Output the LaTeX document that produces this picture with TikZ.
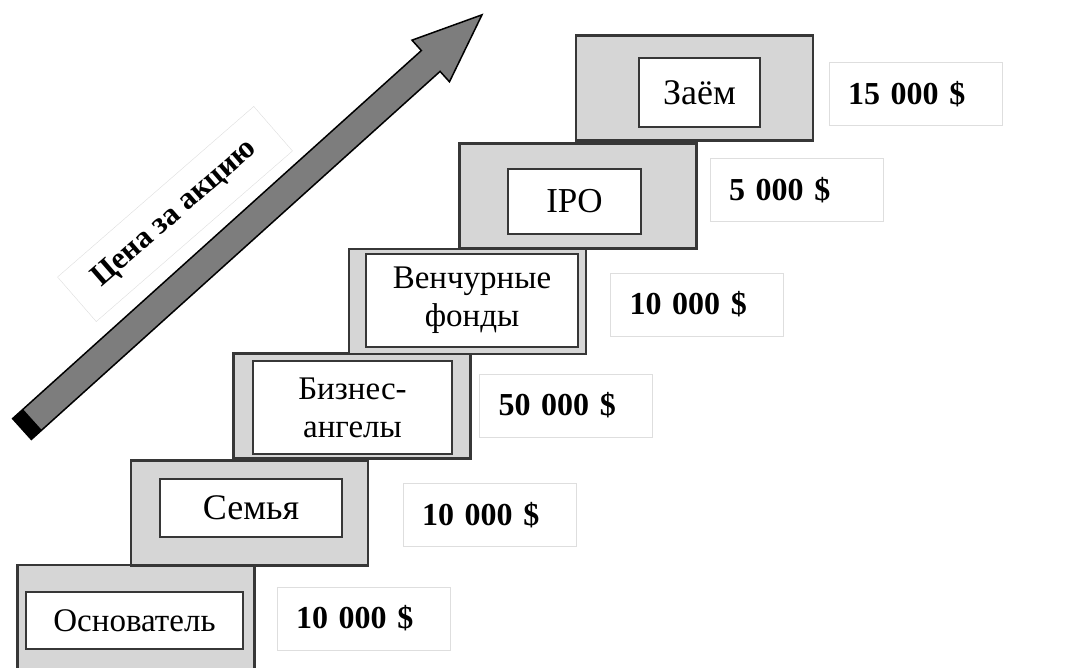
\documentclass[tikz,border=0pt]{standalone}
\usepackage{fontspec}
\setmainfont{Liberation Serif}
\definecolor{stepgray}{RGB}{214,214,214}
\definecolor{edgegray}{RGB}{55,55,55}
\definecolor{arrowgray}{RGB}{125,125,125}
\definecolor{pricegray}{RGB}{222,222,222}

\begin{document}
\begin{tikzpicture}[x=1pt, y=-1pt,
      stepbox/.style={draw=edgegray, fill=stepgray, line width=2.5pt,
                      minimum width=237pt, minimum height=105pt, inner sep=0pt},
      namebox/.style={draw=edgegray, fill=white, line width=2pt, inner sep=0pt,
                      align=center, font=\fontsize{33}{38}\selectfont},
      pricebox/.style={draw=pricegray, fill=white, line width=0.8pt, minimum height=63pt,
                       text width=135pt, inner xsep=19pt, align=left,
                       font=\fontsize{32}{38}\selectfont\bfseries}
    ]
      \useasboundingbox (0,0) rectangle (1084,668);

      % Стрелка
      \coordinate (tail) at (22,429);
      \begin{scope}[shift={(tail)}, rotate=42]
        \filldraw[fill=arrowgray, draw=black, line width=1.5pt]
          (0,-14) -- (550,-14) -- (550,-28) -- (619,0) -- (550,28) -- (550,14) -- (0,14) -- cycle;
        \fill[black] (0,-14) rectangle (14,14);
      \end{scope}
      \node[draw=pricegray, fill=white, rotate=41, minimum width=260pt, minimum height=59pt,
            font=\fontsize{31}{36}\selectfont\bfseries] (axis) at (175,214) {Цена за акцию};

      % Ступени
      \node[stepbox, minimum height=140pt] (s1) at (136,635) {};
      \node[namebox, minimum width=217pt, minimum height=57pt] (found) at (134.5,620.5) {Основатель};

      \node[stepbox] (s2) at (249.5,513) {};
      \node[namebox, minimum width=182pt, minimum height=58pt,
            font=\fontsize{36}{40}\selectfont] (family) at (251,508) {Семья};

      \node[stepbox] (s3) at (352,406) {};
      \node[namebox, minimum width=199pt, minimum height=93pt] (angels) at (352.5,407.5) {Бизнес-\\ангелы};

      \node[stepbox] (s4) at (467.5,301.5) {};
      \node[namebox, minimum width=212pt, minimum height=93pt] (venture) at (472,300.5) {Венчурные\\фонды};

      \node[stepbox] (s5) at (578,196) {};
      \node[namebox, minimum width=133pt, minimum height=65pt,
            font=\fontsize{35}{40}\selectfont] (ipo) at (574.5,201.5) {IPO};

      \node[stepbox] (s6) at (694.5,88) {};
      \node[namebox, minimum width=121pt, minimum height=69pt,
            font=\fontsize{36}{40}\selectfont] (loan) at (699.5,92.5) {Заём};

      % Суммы
      \node[pricebox] (p1) at (363.5,618.5) {10 000 \$};
      \node[pricebox] (p2) at (489.5,515) {10 000 \$};
      \node[pricebox] (p3) at (566,405.5) {50 000 \$};
      \node[pricebox] (p4) at (697,304.5) {10 000 \$};
      \node[pricebox] (p5) at (796.5,190) {5 000 \$};
      \node[pricebox] (p6) at (915.5,94) {15 000 \$};
    \end{tikzpicture}
\end{document}
